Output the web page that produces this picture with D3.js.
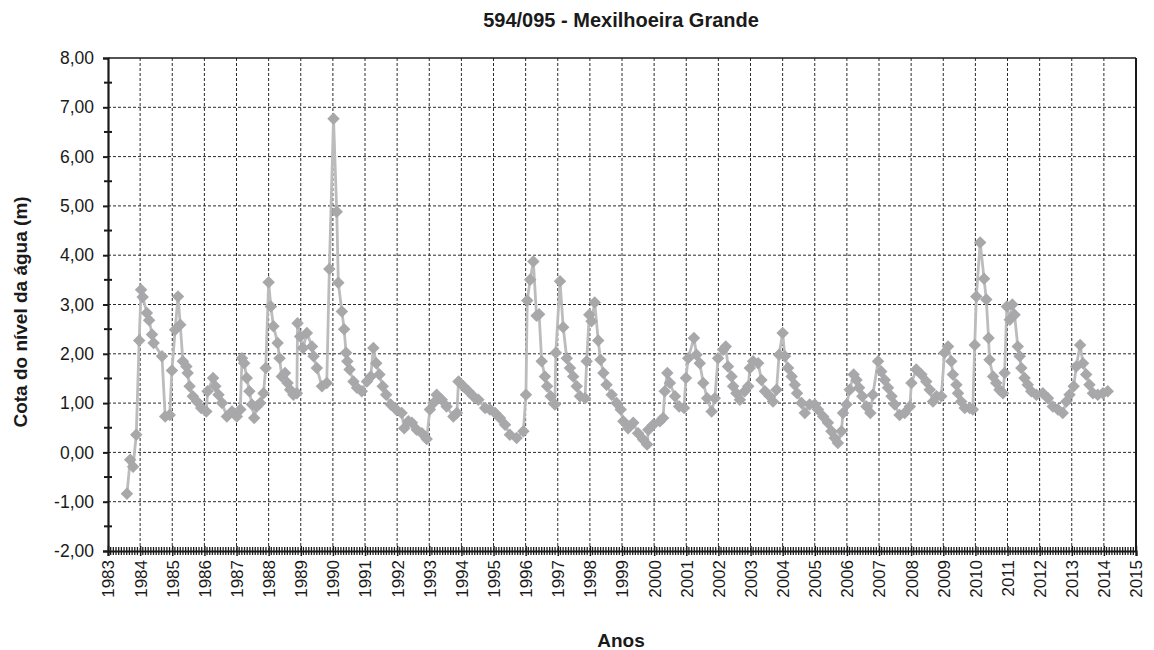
<!DOCTYPE html>
<html lang="pt">
<head>
    <meta charset="UTF-8">
    <title>594/095 - Mexilhoeira Grande</title>
    <script src="https://d3js.org/d3.v7.min.js"></script>
    <style>
        body { margin: 0; background: #fff; }
        text { font-family: "Liberation Sans", Arial, sans-serif; fill: #1a1a1a; }
    </style>
</head>
<body>
<script>
    // measurement dates (decimal years) and water level (m)
    var years = [
        1983.59, 1983.69, 1983.78, 1983.88, 1983.97, 1984.03, 1984.08, 1984.21, 1984.28, 1984.37,
        1984.42, 1984.68, 1984.78, 1984.92, 1984.99, 1985.09, 1985.18, 1985.25, 1985.33, 1985.44,
        1985.48, 1985.54, 1985.64, 1985.77, 1985.90, 1986.06, 1986.10, 1986.27, 1986.34, 1986.44,
        1986.55, 1986.70, 1986.86, 1987.01, 1987.12, 1987.17, 1987.24, 1987.32, 1987.40, 1987.48,
        1987.55, 1987.63, 1987.74, 1987.84, 1987.91, 1988.00, 1988.07, 1988.15, 1988.28, 1988.34,
        1988.41, 1988.51, 1988.59, 1988.67, 1988.77, 1988.88, 1988.90, 1988.98, 1989.07, 1989.19,
        1989.35, 1989.40, 1989.50, 1989.66, 1989.81, 1989.89, 1990.02, 1990.12, 1990.17, 1990.28,
        1990.35, 1990.41, 1990.45, 1990.52, 1990.64, 1990.75, 1990.90, 1991.06, 1991.18, 1991.26,
        1991.35, 1991.45, 1991.55, 1991.66, 1991.80, 1991.97, 1992.14, 1992.22, 1992.35, 1992.46,
        1992.61, 1992.77, 1992.92, 1993.02, 1993.13, 1993.23, 1993.39, 1993.54, 1993.75, 1993.86,
        1993.91, 1994.06, 1994.22, 1994.37, 1994.53, 1994.74, 1994.89, 1995.05, 1995.20, 1995.36,
        1995.51, 1995.72, 1995.93, 1996.01, 1996.05, 1996.14, 1996.24, 1996.34, 1996.42, 1996.50,
        1996.60, 1996.67, 1996.78, 1996.91, 1996.94, 1997.07, 1997.17, 1997.28, 1997.38, 1997.48,
        1997.59, 1997.69, 1997.85, 1997.90, 1997.98, 1998.05, 1998.15, 1998.26, 1998.33, 1998.42,
        1998.52, 1998.68, 1998.83, 1998.96, 1999.04, 1999.19, 1999.35, 1999.50, 1999.66, 1999.78,
        1999.82, 1999.97, 2000.18, 2000.28, 2000.33, 2000.41, 2000.49, 2000.65, 2000.78, 2000.93,
        2000.99, 2001.06, 2001.24, 2001.32, 2001.42, 2001.53, 2001.65, 2001.79, 2001.89, 2001.99,
        2002.15, 2002.23, 2002.30, 2002.41, 2002.46, 2002.56, 2002.67, 2002.82, 2002.93, 2002.98,
        2003.08, 2003.24, 2003.34, 2003.45, 2003.60, 2003.70, 2003.81, 2003.89, 2004.00, 2004.07,
        2004.17, 2004.28, 2004.38, 2004.45, 2004.59, 2004.69, 2004.84, 2005.00, 2005.10, 2005.26,
        2005.41, 2005.52, 2005.62, 2005.72, 2005.83, 2005.88, 2005.99, 2006.09, 2006.21, 2006.30,
        2006.38, 2006.48, 2006.61, 2006.73, 2006.81, 2006.97, 2007.07, 2007.18, 2007.28, 2007.39,
        2007.49, 2007.64, 2007.80, 2007.96, 2008.01, 2008.16, 2008.32, 2008.47, 2008.58, 2008.68,
        2008.79, 2008.94, 2009.04, 2009.15, 2009.25, 2009.30, 2009.41, 2009.46, 2009.56, 2009.67,
        2009.82, 2009.92, 2009.98, 2010.03, 2010.15, 2010.27, 2010.34, 2010.41, 2010.44, 2010.55,
        2010.65, 2010.75, 2010.86, 2010.91, 2010.98, 2011.07, 2011.15, 2011.22, 2011.32, 2011.38,
        2011.43, 2011.53, 2011.63, 2011.74, 2011.90, 2012.10, 2012.26, 2012.41, 2012.57, 2012.72,
        2012.83, 2012.93, 2013.06, 2013.14, 2013.26, 2013.35, 2013.45, 2013.55, 2013.66, 2013.81,
        2013.97, 2014.12
    ];
    var levels = [
        -0.84, -0.15, -0.29, 0.36, 2.27, 3.30, 3.15, 2.83, 2.68, 2.39,
        2.22, 1.95, 0.73, 0.76, 1.66, 2.49, 3.16, 2.59, 1.85, 1.74,
        1.61, 1.34, 1.14, 1.03, 0.90, 0.83, 1.24, 1.51, 1.34, 1.17,
        1.00, 0.73, 0.83, 0.73, 0.87, 1.91, 1.81, 1.51, 1.24, 0.97,
        0.70, 0.93, 1.00, 1.20, 1.71, 3.45, 2.96, 2.56, 2.22, 1.91,
        1.54, 1.61, 1.41, 1.27, 1.17, 1.20, 2.62, 2.35, 2.12, 2.42,
        2.15, 1.95, 1.71, 1.34, 1.41, 3.72, 6.77, 4.88, 3.44, 2.86,
        2.50, 2.02, 1.85, 1.68, 1.44, 1.31, 1.24, 1.44, 1.54, 2.12,
        1.81, 1.58, 1.34, 1.17, 0.97, 0.87, 0.80, 0.49, 0.63, 0.60,
        0.46, 0.39, 0.27, 0.87, 1.00, 1.17, 1.07, 0.93, 0.73, 0.80,
        1.44, 1.34, 1.24, 1.14, 1.07, 0.90, 0.87, 0.80, 0.70, 0.56,
        0.36, 0.29, 0.43, 1.17, 3.08, 3.50, 3.87, 2.77, 2.80, 1.85,
        1.54, 1.34, 1.14, 0.97, 2.02, 3.47, 2.54, 1.91, 1.71, 1.54,
        1.34, 1.14, 1.10, 1.85, 2.79, 2.66, 3.04, 2.27, 1.88, 1.61,
        1.37, 1.17, 1.00, 0.87, 0.63, 0.49, 0.60, 0.39, 0.26, 0.16,
        0.46, 0.56, 0.63, 0.70, 1.24, 1.61, 1.41, 1.14, 0.93, 0.90,
        1.51, 1.91, 2.32, 1.98, 1.81, 1.41, 1.10, 0.83, 1.10, 1.91,
        2.08, 2.15, 1.74, 1.54, 1.34, 1.20, 1.07, 1.24, 1.34, 1.71,
        1.85, 1.81, 1.47, 1.24, 1.14, 1.03, 1.27, 1.98, 2.42, 1.95,
        1.71, 1.54, 1.37, 1.20, 1.00, 0.80, 0.97, 0.97, 0.87, 0.73,
        0.60, 0.43, 0.29, 0.19, 0.43, 0.80, 0.97, 1.27, 1.58, 1.47,
        1.31, 1.14, 0.93, 0.80, 1.17, 1.85, 1.64, 1.47, 1.31, 1.14,
        0.97, 0.76, 0.80, 0.93, 1.41, 1.68, 1.58, 1.44, 1.27, 1.03,
        1.14, 1.14, 2.02, 2.15, 1.85, 1.58, 1.37, 1.20, 1.03, 0.90,
        0.90, 0.87, 2.18, 3.16, 4.26, 3.52, 3.10, 2.32, 1.88, 1.54,
        1.41, 1.27, 1.20, 1.61, 2.96, 2.69, 3.00, 2.79, 2.15, 1.95,
        1.71, 1.51, 1.37, 1.24, 1.17, 1.20, 1.10, 0.93, 0.87, 0.80,
        1.03, 1.17, 1.34, 1.74, 2.18, 1.81, 1.58, 1.37, 1.20, 1.17,
        1.20, 1.24
    ];

    // axis ticks
    var xTickYears = d3.range(1983, 2016);
    var yTickValues = [-2, -1, 0, 1, 2, 3, 4, 5, 6, 7, 8];

    var title = "594/095 - Mexilhoeira Grande";
    var xLabel = "Anos";
    var yLabel = "Cota do nível da água (m)";

    var data = years.map(function(d, i) { return {year: d, level: levels[i]}; });

    // plot area inside the 1154x650 page
    var margin = {top: 58, right: 18, bottom: 99, left: 108},
        width = 1154 - margin.left - margin.right,
        height = 650 - margin.top - margin.bottom;

    var svg = d3.select("body").append("svg")
        .attr("width", 1154)
        .attr("height", 650);

    var g = svg.append("g")
        .attr("transform", "translate(" + margin.left + "," + margin.top + ")");

    var x = d3.scaleLinear().domain([1983, 2015]).range([0, width]);
    var y = d3.scaleLinear().domain([-2, 8]).range([height, 0]);

    var fmt = function(v) { return v.toFixed(2).replace(".", ","); };

    // dashed grid
    g.append("g").selectAll("line")
        .data(xTickYears.slice(1, -1))
        .enter().append("line")
        .attr("x1", d => x(d)).attr("x2", d => x(d))
        .attr("y1", 0).attr("y2", height)
        .attr("stroke", "#2a2a2a")
        .attr("stroke-width", 1)
        .attr("stroke-dasharray", "3,2");

    g.append("g").selectAll("line")
        .data(yTickValues.slice(1, -1))
        .enter().append("line")
        .attr("x1", 0).attr("x2", width)
        .attr("y1", d => y(d)).attr("y2", d => y(d))
        .attr("stroke", "#2a2a2a")
        .attr("stroke-width", 1)
        .attr("stroke-dasharray", "3,2");

    // top and right border
    g.append("line").attr("x1", 0).attr("x2", width).attr("y1", 0).attr("y2", 0)
        .attr("stroke", "#1a1a1a").attr("stroke-width", 1.5);
    g.append("line").attr("x1", width).attr("x2", width).attr("y1", 0).attr("y2", height)
        .attr("stroke", "#1a1a1a").attr("stroke-width", 2);

    // y axis
    var yAxis = g.append("g")
        .call(d3.axisLeft(y).tickValues(yTickValues).tickSize(5).tickPadding(9).tickFormat(fmt));
    yAxis.select(".domain").attr("stroke", "#1a1a1a").attr("stroke-width", 2.2);
    yAxis.selectAll(".tick line").attr("stroke", "#1a1a1a").attr("stroke-width", 2);
    yAxis.selectAll("text")
        .style("font-family", "'Liberation Sans', Arial, sans-serif")
        .style("font-size", "17.5px")
        .attr("fill", "#1a1a1a");

    // half-unit minor ticks crossing the y axis
    g.append("g").selectAll("line")
        .data(d3.range(-1.5, 8, 1))
        .enter().append("line")
        .attr("x1", -4).attr("x2", 4)
        .attr("y1", d => y(d)).attr("y2", d => y(d))
        .attr("stroke", "#1a1a1a")
        .attr("stroke-width", 2);

    // x axis
    var xAxis = g.append("g")
        .attr("transform", "translate(0," + height + ")")
        .call(d3.axisBottom(x).tickValues(xTickYears).tickSize(5).tickFormat(d3.format("d")));
    xAxis.select(".domain").attr("stroke", "#1a1a1a").attr("stroke-width", 2.2);
    xAxis.selectAll(".tick line").attr("stroke", "#1a1a1a").attr("stroke-width", 1.5)
        .attr("y1", -5);
    xAxis.selectAll("text")
        .style("font-family", "'Liberation Sans', Arial, sans-serif")
        .style("font-size", "17px")
        .attr("fill", "#1a1a1a")
        .attr("transform", "rotate(-90)")
        .attr("text-anchor", "end")
        .attr("x", -9)
        .attr("y", 0)
        .attr("dy", "0.35em");

    // monthly minor ticks crossing the x axis
    var months = d3.range(1983, 2015, 1 / 12).filter(function(m) {
        return Math.abs(m - Math.round(m)) > 0.01;
    });
    g.append("g").selectAll("line")
        .data(months)
        .enter().append("line")
        .attr("x1", d => x(d)).attr("x2", d => x(d))
        .attr("y1", height - 4).attr("y2", height + 4)
        .attr("stroke", "#1a1a1a")
        .attr("stroke-width", 1.3);

    // water level line
    var line = d3.line()
        .x(d => x(d.year))
        .y(d => y(d.level));

    g.append("path")
        .datum(data)
        .attr("fill", "none")
        .attr("stroke", "#bcbcbd")
        .attr("stroke-width", 2.8)
        .attr("stroke-linejoin", "round")
        .attr("d", line);

    // diamond markers
    var diamond = d3.symbol().type(d3.symbolSquare).size(78);
    g.append("g").selectAll("path")
        .data(data)
        .enter().append("path")
        .attr("d", diamond)
        .attr("transform", d => "translate(" + x(d.year) + "," + y(d.level) + ") rotate(45)")
        .attr("fill", "#a8a8aa");

    // title and axis labels
    svg.append("text")
        .attr("x", 621)
        .attr("y", 27)
        .attr("text-anchor", "middle")
        .style("font-size", "20px")
        .style("font-weight", "bold")
        .text(title);

    svg.append("text")
        .attr("x", 621)
        .attr("y", 647)
        .attr("text-anchor", "middle")
        .style("font-size", "19px")
        .style("font-weight", "bold")
        .text(xLabel);

    svg.append("text")
        .attr("transform", "translate(27," + 312 + ") rotate(-90)")
        .attr("text-anchor", "middle")
        .style("font-size", "19px")
        .style("font-weight", "bold")
        .text(yLabel);
</script>
</body>
</html>
